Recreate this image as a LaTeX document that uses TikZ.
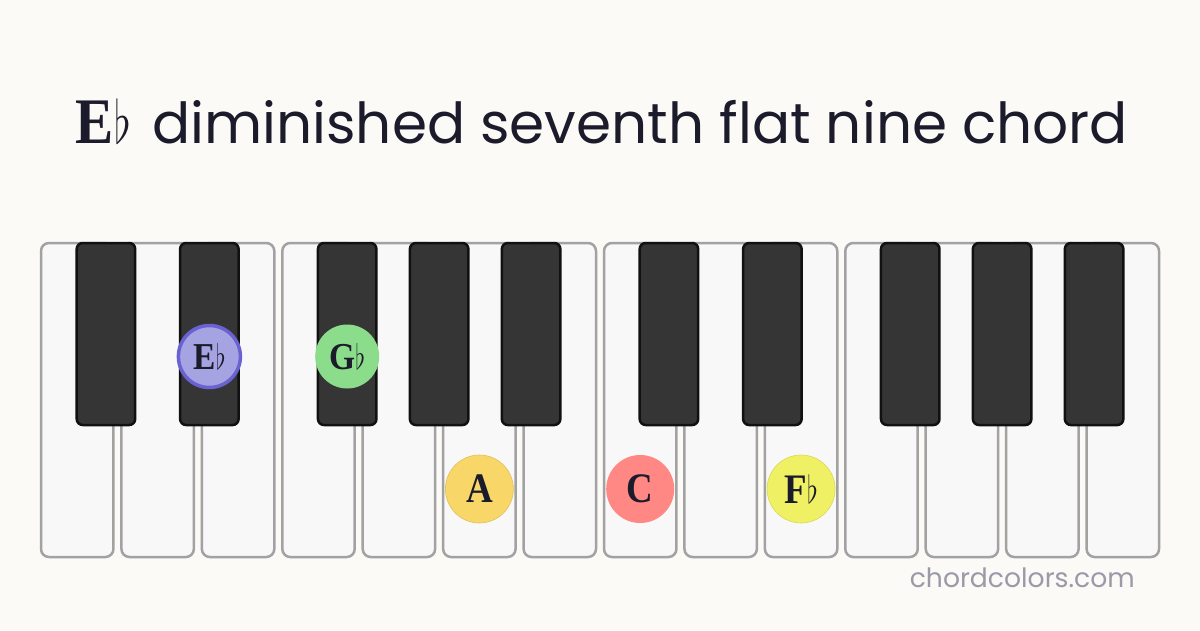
\RequirePackage{fix-cm}
\documentclass[tikz,border=0pt]{standalone}
\usepackage{fontspec}
\newfontfamily\titlefont{Poppins}
\newfontfamily\labfont{Liberation Serif}[FakeStretch=0.88]
\definecolor{bg}{HTML}{FBFAF6}
\definecolor{wfill}{HTML}{F8F8F8}
\definecolor{wline}{HTML}{A2A2A2}
\definecolor{bfill}{HTML}{353535}
\definecolor{bline}{HTML}{111111}
\definecolor{ink}{HTML}{1B1B2B}
\definecolor{mark}{HTML}{9A9AA8}
\definecolor{ebfill}{HTML}{A6A3E2}
\definecolor{ebline}{HTML}{6A62D2}
\definecolor{gbfill}{HTML}{8BDD8B}
\definecolor{afill}{HTML}{F8D668}
\definecolor{cfill}{HTML}{FF8784}
\definecolor{fbfill}{HTML}{F0F064}
\newcommand{\fl}{\kern0.01em\scalebox{0.68}[0.92]{$\flat$}}
\newcommand{\nlab}[2]{{\labfont\bfseries\fontsize{#1}{#1}\selectfont #2}}
\begin{document}
\begin{tikzpicture}[x=1pt,y=-1pt,
  whitekey/.style={draw=wline,fill=wfill,line width=2.5pt,rounded corners=8pt},
  blackkey/.style={draw=bline,fill=bfill,line width=2.5pt,rounded corners=6pt},
  notedot/.style={circle,inner sep=0pt,text=ink},
  whitedot/.style={notedot,minimum size=68pt},
  blackdot/.style={notedot,minimum size=64pt}]
\fill[bg] (0,0) rectangle (1200,630);
\useasboundingbox (0,0) rectangle (1200,630);
% white keys
\foreach \i in {0,...,13}{
  \pgfmathsetmacro{\xl}{41+80.43*\i}
  \draw[whitekey] (\xl,243) rectangle ++(72.43,314);
}
% black keys: centres relative to boundaries
\foreach \o in {0,7}{
  \foreach \k/\off in {1/-11.5,2/11.5,4/-11.5,5/0,6/11.5}{
    \pgfmathsetmacro{\xc}{41+80.43*(\o+\k)-4+\off}
    \draw[blackkey] (\xc-29.25,243) rectangle (\xc+29.25,425);
  }
}
% note markers
\node[blackdot,fill=ebfill,draw=ebline,line width=3.5pt,minimum size=62pt] (eb) at (209.4,356.5) {\nlab{38}{E\fl}};
\node[blackdot,fill=gbfill] (gb) at (347.2,356.5) {\nlab{38}{G\fl}};
\node[whitedot,fill=afill,draw=afill!90!black,line width=0.6pt] (a) at (479.4,489) {\nlab{42}{A}};
\node[whitedot,fill=cfill] (c) at (640.2,489) {\nlab{42}{C}};
\node[whitedot,fill=fbfill,draw=fbfill!90!black,line width=0.6pt] (fb) at (801.1,489) {\nlab{42}{F\fl}};
% title
\node[anchor=base west,inner sep=0pt,text=ink] (tk) at (75,143) {\nlab{65}{E\fl}};
\node[anchor=base west,inner sep=0pt,text=ink] (tt) at (152,143) {\resizebox{976pt}{!}{\titlefont\fontsize{60}{60}\selectfont diminished seventh flat nine chord}};
% watermark
\node[anchor=base east,inner sep=0pt,text=mark] (wm) at (1135,587) {\resizebox{225pt}{!}{\titlefont\fontsize{30}{30}\selectfont chordcolors.com}};
\end{tikzpicture}
\end{document}
